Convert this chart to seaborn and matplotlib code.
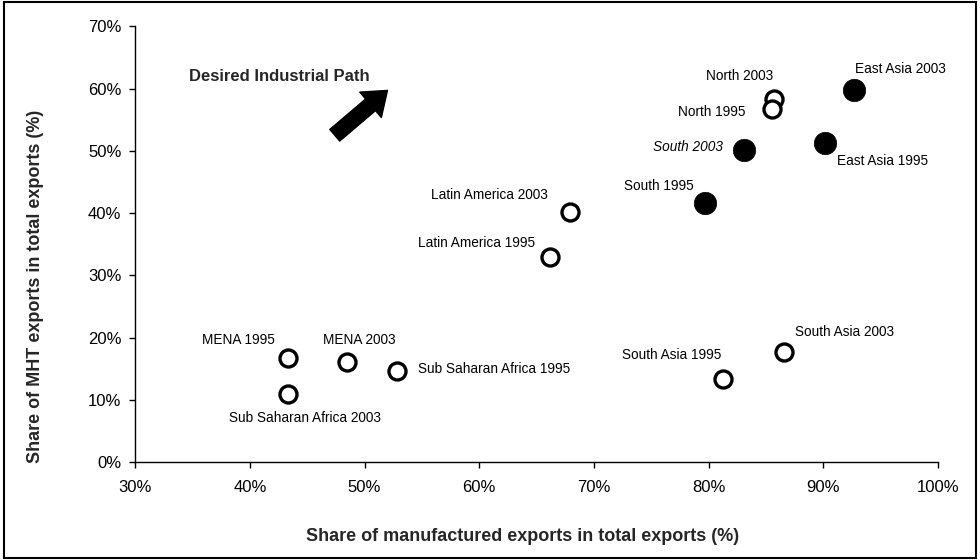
import matplotlib
matplotlib.use("Agg")
import matplotlib.pyplot as plt
import matplotlib.patches as mpatches
import seaborn as sns
import pandas as pd
from matplotlib.ticker import FuncFormatter

# ---- data ----
labels = ["North 2003", "North 1995", "East Asia 2003", "South 2003", "East Asia 1995",
          "South 1995", "Latin America 2003", "Latin America 1995", "MENA 1995", "MENA 2003",
          "Sub Saharan Africa 1995", "Sub Saharan Africa 2003", "South Asia 2003", "South Asia 1995"]
manuf_share = [85.7, 85.5, 92.7, 83.1, 90.2, 79.7, 67.9, 66.2, 43.3, 48.5, 52.8, 43.3, 86.6, 81.3]
mht_share = [58.3, 56.7, 59.7, 50.1, 51.2, 41.6, 40.1, 32.9, 16.7, 16.1, 14.6, 10.9, 17.7, 13.3]
filled = [False, False, True, True, True, True, False, False, False, False, False, False, False, False]
# label offsets in pixels (dx, dy)
label_dx = [-34, -60, 46, -56, 57, -46, -80, -74, -49, 12, 97, 17, 60, -52]
label_dy = [23, -3, 21, 3, -18, 17, 17, 14, 18, 22, 2, -24, 20, 24]
x_ticks = [30, 40, 50, 60, 70, 80, 90, 100]
y_ticks = [0, 10, 20, 30, 40, 50, 60, 70]

df = pd.DataFrame({"label": labels, "x": manuf_share, "y": mht_share, "filled": filled})

sns.set_style("white")
plt.rcParams["font.family"] = ["Liberation Sans", "DejaVu Sans"]

fig = plt.figure(figsize=(9.8, 5.6), dpi=100)
ax = fig.add_axes([0.138, 0.175, 0.819, 0.778])

open_df = df[~df["filled"]]
fill_df = df[df["filled"]]
sns.scatterplot(data=open_df, x="x", y="y", ax=ax, s=150, facecolor="white",
                edgecolor="black", linewidth=2.4, zorder=3)
sns.scatterplot(data=fill_df, x="x", y="y", ax=ax, s=260, color="black",
                edgecolor="black", linewidth=0.5, zorder=3)

for i, row in df.iterrows():
    style = "italic" if row["label"] == "South 2003" else "normal"
    ax.annotate(row["label"], (row["x"], row["y"]), xytext=(label_dx[i], label_dy[i]),
                textcoords="offset pixels", ha="center", va="center", fontsize=9.8,
                fontstyle=style, color="black")

ax.text(42.6, 62.0, "Desired Industrial Path", ha="center", va="center",
        fontsize=12, fontweight="bold")
ax.annotate("", xy=(52.0, 59.7), xytext=(47.4, 52.5),
            arrowprops=dict(arrowstyle="simple,head_length=0.8,head_width=1.2,tail_width=0.55",
                            mutation_scale=20, color="black", shrinkA=0, shrinkB=0))

ax.set_xlim(30, 100)
ax.set_ylim(0, 70)
ax.set_xticks(x_ticks)
ax.set_yticks(y_ticks)
pct = FuncFormatter(lambda v, p: f"{v:.0f}%")
ax.xaxis.set_major_formatter(pct)
ax.yaxis.set_major_formatter(pct)
ax.tick_params(axis="both", direction="out", length=4, width=1, color="black",
               labelsize=12, labelcolor="black", left=True, bottom=True, pad=6)
ax.tick_params(axis="x", pad=9)
for s in ["top", "right"]:
    ax.spines[s].set_visible(False)
for s in ["left", "bottom"]:
    ax.spines[s].set_color("black")
    ax.spines[s].set_linewidth(1.0)

ax.set_xlabel("Share of manufactured exports in total exports (%)", fontsize=13,
              fontweight="bold", va="center", ha="center")
ax.set_ylabel("Share of MHT exports in total exports (%)", fontsize=13,
              fontweight="bold", va="center", ha="center")
ax.xaxis.set_label_coords(0.482, -0.172)
ax.yaxis.set_label_coords(-0.1245, 0.404)

fig.patches.append(mpatches.Rectangle((0.004, 0.004), 0.992, 0.992, transform=fig.transFigure,
                                      fill=False, edgecolor="black", linewidth=1.5))

fig.savefig("out.png", dpi=100)
